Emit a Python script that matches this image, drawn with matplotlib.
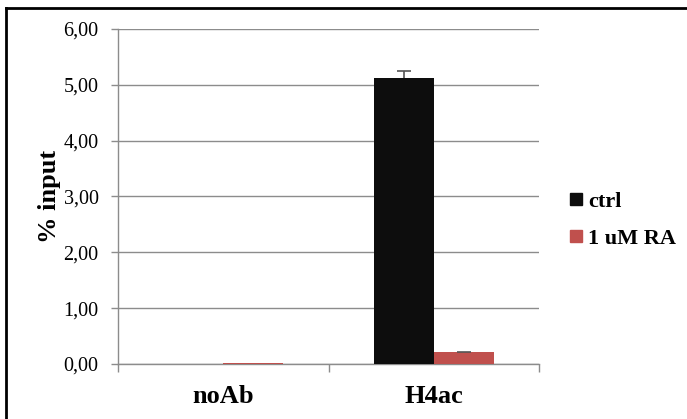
import matplotlib.pyplot as plt
import numpy as np
from matplotlib.lines import Line2D

categories = ['noAb', 'H4ac']
ctrl = [0.0, 5.13]
ctrl_err = [0.0, 0.12]
ra = [0.01, 0.21]
ra_err = [0.0, 0.01]
series_names = ['ctrl', '1 uM RA']
yticks = [0, 1, 2, 3, 4, 5, 6]

plt.rcParams['font.family'] = 'Liberation Serif'

fig = plt.figure(figsize=(6.87, 4.19), dpi=100)
ax = fig.add_axes([0.1718, 0.1313, 0.6128, 0.7995])

x = np.arange(len(categories))
w = 0.286
colors = ['#0d0d0d', '#c0504d']
for k, (vals, errs) in enumerate([(ctrl, ctrl_err), (ra, ra_err)]):
    pos = x + (k - 0.5) * w
    ax.bar(pos, vals, w, color=colors[k], label=series_names[k], zorder=3)
    # upper error bars only, skipped where there is no spread
    keep = np.array(errs) > 0
    lo = np.array(vals)[keep]
    hi = lo + np.array(errs)[keep]
    ax.vlines(pos[keep], lo, hi, color='#555555', linewidth=1.2, zorder=4)
    ax.plot(pos[keep], hi, linestyle='none', marker='_', markersize=10,
            markeredgewidth=1.2, color='#555555', zorder=4)

ax.set_xlim(-0.5, 1.5)
ax.set_ylim(0, 6)
ax.set_yticks(yticks)
ax.set_yticklabels([f'{v:.2f}'.replace('.', ',') for v in yticks], fontsize=14.5)
ax.yaxis.grid(True, color='#8c8c8c', linewidth=1)
ax.set_axisbelow(True)

# category boundaries get the tick marks, names sit between them
ax.set_xticks([-0.5, 0.5, 1.5])
ax.set_xticklabels([])
ax.set_xticks(x, minor=True)
ax.set_xticklabels(categories, minor=True, fontsize=19, fontweight='bold')
ax.tick_params(axis='x', which='minor', length=0, pad=15)
ax.tick_params(axis='x', which='major', length=6, color='#8c8c8c', width=1)
ax.tick_params(axis='y', length=5, color='#8c8c8c', width=1, pad=9)

for s in ['top', 'right']:
    ax.spines[s].set_visible(False)
for s in ['left', 'bottom']:
    ax.spines[s].set_color('#8c8c8c')
    ax.spines[s].set_linewidth(1)

ax.set_ylabel('% input', fontsize=19, fontweight='bold', labelpad=2)

handles = [Line2D([], [], marker='s', linestyle='none', markersize=9, color=c)
           for c in colors]
fig.legend(handles, series_names, loc='center left', bbox_to_anchor=(0.793, 0.475),
           frameon=False, prop=dict(size=16, weight='bold'),
           handletextpad=0.05, labelspacing=0.75, handlelength=1.0)

# chart frame
fig.add_artist(Line2D([6 / 687, 6 / 687], [0, 1 - 8 / 419], color='black', linewidth=2))
fig.add_artist(Line2D([6 / 687, 1], [1 - 8 / 419, 1 - 8 / 419], color='black', linewidth=2))

fig.savefig('out.png', dpi=100)
